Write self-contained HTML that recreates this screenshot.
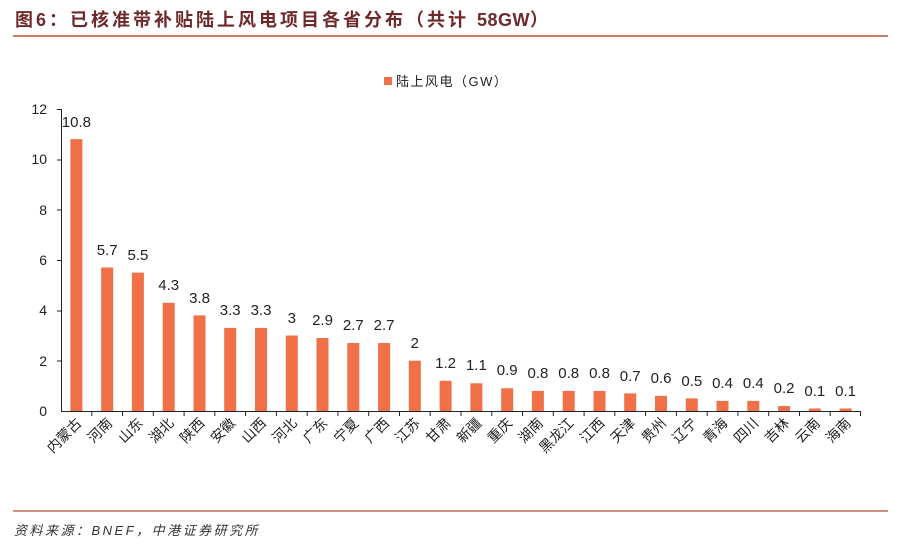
<!DOCTYPE html>
<html><head><meta charset="utf-8"><style>
body{margin:0;background:#fff}
svg{display:block}
text{font-family:"Liberation Sans","Noto Sans CJK SC",sans-serif}
</style></head><body>
<svg width="902" height="550" xmlns="http://www.w3.org/2000/svg">
<text x="15" y="26" font-size="18" font-weight="bold" fill="#6e2a2a" letter-spacing="3">图6：已核准带补贴陆上风电项目各省分布（共计 <tspan letter-spacing="0.5">58GW</tspan>）</text>
<line x1="13" y1="36" x2="888" y2="36" stroke="#c0503a" stroke-width="1.5"/>
<rect x="384" y="77" width="8" height="8" fill="#f07048"/>
<text x="396" y="86" font-size="13" fill="#222" letter-spacing="1.5">陆上风电（GW）</text>
<g font-size="14" fill="#222" text-anchor="end">
<text x="47" y="416">0</text><text x="47" y="366">2</text><text x="47" y="315">4</text>
<text x="47" y="265">6</text><text x="47" y="215">8</text><text x="47" y="164">10</text><text x="47" y="114">12</text>
</g>
<line x1="61.5" y1="109" x2="61.5" y2="411" stroke="#222"/>
<g stroke="#222"><line x1="57" y1="109.5" x2="61" y2="109.5"/><line x1="57" y1="160" x2="61" y2="160"/><line x1="57" y1="210" x2="61" y2="210"/><line x1="57" y1="260.5" x2="61" y2="260.5"/><line x1="57" y1="311" x2="61" y2="311"/><line x1="57" y1="361" x2="61" y2="361"/></g>
<g fill="#f07048">
<rect x="70.4" y="139.2" width="12" height="271.8"/>
<rect x="101.2" y="267.5" width="12" height="143.5"/>
<rect x="131.9" y="272.6" width="12" height="138.4"/>
<rect x="162.7" y="302.8" width="12" height="108.2"/>
<rect x="193.5" y="315.4" width="12" height="95.6"/>
<rect x="224.2" y="327.9" width="12" height="83.1"/>
<rect x="255.0" y="327.9" width="12" height="83.1"/>
<rect x="285.8" y="335.5" width="12" height="75.5"/>
<rect x="316.5" y="338.0" width="12" height="73.0"/>
<rect x="347.3" y="343.0" width="12" height="68.0"/>
<rect x="378.1" y="343.0" width="12" height="68.0"/>
<rect x="408.8" y="360.7" width="12" height="50.3"/>
<rect x="439.6" y="380.8" width="12" height="30.2"/>
<rect x="470.4" y="383.3" width="12" height="27.7"/>
<rect x="501.2" y="388.3" width="12" height="22.7"/>
<rect x="531.9" y="390.9" width="12" height="20.1"/>
<rect x="562.7" y="390.9" width="12" height="20.1"/>
<rect x="593.5" y="390.9" width="12" height="20.1"/>
<rect x="624.2" y="393.4" width="12" height="17.6"/>
<rect x="655.0" y="395.9" width="12" height="15.1"/>
<rect x="685.8" y="398.4" width="12" height="12.6"/>
<rect x="716.5" y="400.9" width="12" height="10.1"/>
<rect x="747.3" y="400.9" width="12" height="10.1"/>
<rect x="778.1" y="406.0" width="12" height="5.0"/>
<rect x="808.8" y="408.5" width="12" height="2.5"/>
<rect x="839.6" y="408.5" width="12" height="2.5"/>
</g>
<g font-size="15" fill="#222" text-anchor="middle">
<text x="76.4" y="127">10.8</text>
<text x="107.2" y="255">5.7</text>
<text x="137.9" y="260">5.5</text>
<text x="168.7" y="290">4.3</text>
<text x="199.5" y="303">3.8</text>
<text x="230.2" y="315">3.3</text>
<text x="261.0" y="315">3.3</text>
<text x="291.8" y="323">3</text>
<text x="322.5" y="325">2.9</text>
<text x="353.3" y="330">2.7</text>
<text x="384.1" y="330">2.7</text>
<text x="414.8" y="348">2</text>
<text x="445.6" y="368">1.2</text>
<text x="476.4" y="370">1.1</text>
<text x="507.2" y="375">0.9</text>
<text x="537.9" y="378">0.8</text>
<text x="568.7" y="378">0.8</text>
<text x="599.5" y="378">0.8</text>
<text x="630.2" y="381">0.7</text>
<text x="661.0" y="383">0.6</text>
<text x="691.8" y="386">0.5</text>
<text x="722.5" y="388">0.4</text>
<text x="753.3" y="388">0.4</text>
<text x="784.1" y="393">0.2</text>
<text x="814.8" y="396">0.1</text>
<text x="845.6" y="396">0.1</text>
</g>
<line x1="61" y1="411.5" x2="861" y2="411.5" stroke="#222"/>
<g stroke="#222">
<line x1="91.8" y1="411" x2="91.8" y2="416"/><line x1="122.5" y1="411" x2="122.5" y2="416"/><line x1="153.3" y1="411" x2="153.3" y2="416"/><line x1="184.1" y1="411" x2="184.1" y2="416"/><line x1="214.8" y1="411" x2="214.8" y2="416"/><line x1="245.6" y1="411" x2="245.6" y2="416"/><line x1="276.4" y1="411" x2="276.4" y2="416"/><line x1="307.2" y1="411" x2="307.2" y2="416"/><line x1="337.9" y1="411" x2="337.9" y2="416"/><line x1="368.7" y1="411" x2="368.7" y2="416"/><line x1="399.5" y1="411" x2="399.5" y2="416"/><line x1="430.2" y1="411" x2="430.2" y2="416"/><line x1="461.0" y1="411" x2="461.0" y2="416"/><line x1="491.8" y1="411" x2="491.8" y2="416"/><line x1="522.5" y1="411" x2="522.5" y2="416"/><line x1="553.3" y1="411" x2="553.3" y2="416"/><line x1="584.1" y1="411" x2="584.1" y2="416"/><line x1="614.8" y1="411" x2="614.8" y2="416"/><line x1="645.6" y1="411" x2="645.6" y2="416"/><line x1="676.4" y1="411" x2="676.4" y2="416"/><line x1="707.2" y1="411" x2="707.2" y2="416"/><line x1="737.9" y1="411" x2="737.9" y2="416"/><line x1="768.7" y1="411" x2="768.7" y2="416"/><line x1="799.5" y1="411" x2="799.5" y2="416"/><line x1="830.2" y1="411" x2="830.2" y2="416"/><line x1="860.5" y1="411" x2="860.5" y2="416"/>
</g>
<g font-size="14" fill="#222" text-anchor="end">
<text transform="translate(82.4,424) rotate(-45)">内蒙古</text>
<text transform="translate(113.2,424) rotate(-45)">河南</text>
<text transform="translate(143.9,424) rotate(-45)">山东</text>
<text transform="translate(174.7,424) rotate(-45)">湖北</text>
<text transform="translate(205.5,424) rotate(-45)">陕西</text>
<text transform="translate(236.2,424) rotate(-45)">安徽</text>
<text transform="translate(267.0,424) rotate(-45)">山西</text>
<text transform="translate(297.8,424) rotate(-45)">河北</text>
<text transform="translate(328.5,424) rotate(-45)">广东</text>
<text transform="translate(359.3,424) rotate(-45)">宁夏</text>
<text transform="translate(390.1,424) rotate(-45)">广西</text>
<text transform="translate(420.8,424) rotate(-45)">江苏</text>
<text transform="translate(451.6,424) rotate(-45)">甘肃</text>
<text transform="translate(482.4,424) rotate(-45)">新疆</text>
<text transform="translate(513.2,424) rotate(-45)">重庆</text>
<text transform="translate(543.9,424) rotate(-45)">湖南</text>
<text transform="translate(574.7,424) rotate(-45)">黑龙江</text>
<text transform="translate(605.5,424) rotate(-45)">江西</text>
<text transform="translate(636.2,424) rotate(-45)">天津</text>
<text transform="translate(667.0,424) rotate(-45)">贵州</text>
<text transform="translate(697.8,424) rotate(-45)">辽宁</text>
<text transform="translate(728.5,424) rotate(-45)">青海</text>
<text transform="translate(759.3,424) rotate(-45)">四川</text>
<text transform="translate(790.1,424) rotate(-45)">吉林</text>
<text transform="translate(820.8,424) rotate(-45)">云南</text>
<text transform="translate(851.6,424) rotate(-45)">海南</text>
</g>
<line x1="13" y1="511" x2="888" y2="511" stroke="#d09080" stroke-width="2"/>
<text x="14" y="535" font-size="13" font-style="italic" fill="#333" letter-spacing="2.5">资料来源：BNEF，中港证券研究所</text>
</svg>
</body></html>
